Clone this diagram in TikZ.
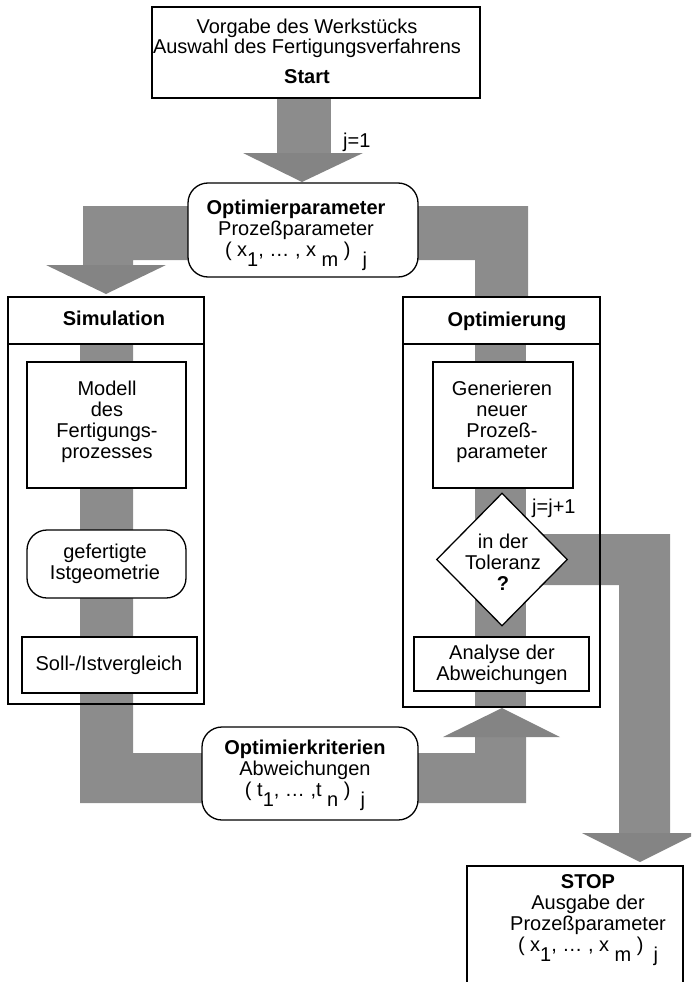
\documentclass[tikz,border=0pt]{standalone}
\usepackage{fontspec}
\setmainfont{Liberation Sans}
\usetikzlibrary{shapes.geometric}
\definecolor{bandc}{RGB}{140,140,140}
\definecolor{headc}{RGB}{132,132,132}
\newcommand{\lowr}[1]{\raisebox{-10pt}{#1}}
\begin{document}
\begin{tikzpicture}[x=1pt,y=-1pt,
  every node/.style={font=\fontsize{20}{21}\selectfont},
  box/.style={draw, line width=1.3pt, fill=white, inner sep=0pt},
  rbox/.style={box, rounded corners=20pt},
  frame/.style={draw, line width=1.3pt, inner sep=0pt},
  txt/.style={align=center, inner sep=0pt, anchor=base},
  lbl/.style={inner sep=0pt, anchor=base west}]
\useasboundingbox (0,0) rectangle (691,982);
\clip (0,0) rectangle (691,982);
% ---------- gray bands ----------
\fill[bandc] (277,98) rectangle (331,153);
\fill[headc] (243,153) -- (363,153) -- (302,182) -- cycle;
\fill[bandc] (83,206) -- (300,206) -- (300,260) -- (133,260) -- (133,265) -- (83,265) -- cycle;
\fill[headc] (46,265) -- (166,265) -- (106,294) -- cycle;
\fill[bandc] (300,206) -- (528,206) -- (528,297) -- (475,297) -- (475,260) -- (300,260) -- cycle;
\fill[bandc] (80,344) -- (133,344) -- (133,753) -- (300,753) -- (300,803) -- (80,803) -- cycle;
\fill[bandc] (475,344) rectangle (526,707);
\fill[bandc] (475,737) -- (526,737) -- (526,803) -- (300,803) -- (300,753) -- (475,753) -- cycle;
\fill[headc] (443,737) -- (560,737) -- (502,708) -- cycle;
\fill[bandc] (502,534) -- (670,534) -- (670,833) -- (619,833) -- (619,585) -- (502,585) -- cycle;
\fill[headc] (582,833) -- (698,833) -- (640,862) -- cycle;
% ---------- boxes ----------
\node[box, minimum width=328pt, minimum height=91pt] (top) at (316,52.5) {};
\node[rbox, minimum width=230pt, minimum height=94pt] (optpar) at (303,230) {};
\node[box, minimum width=196pt, minimum height=47pt] (simhead) at (106,320.5) {};
\node[frame, minimum width=196pt, minimum height=360pt] (simbody) at (106,524) {};
\node[box, minimum width=197pt, minimum height=47pt] (opthead) at (501.5,320.5) {};
\node[frame, minimum width=197pt, minimum height=363pt] (optbody) at (501.5,525.5) {};
\node[box, minimum width=159pt, minimum height=126pt] (modell) at (106.5,425) {};
\node[rbox, minimum width=159pt, minimum height=68pt] (ist) at (106.5,564) {};
\node[box, minimum width=175pt, minimum height=56pt] (soll) at (109.5,665) {};
\node[box, minimum width=140pt, minimum height=126pt] (gen) at (503,425) {};
\node[box, diamond, minimum width=131pt, minimum height=133pt] (tol) at (502,559.5) {};
\node[box, minimum width=175pt, minimum height=54pt] (ana) at (501.5,664) {};
\node[rbox, minimum width=216pt, minimum height=93pt] (optkrit) at (310,773.5) {};
\node[box, minimum width=216pt, minimum height=144pt] (stop) at (575,938) {};
% ---------- texts (anchor = baseline of last line) ----------
\node[txt] (ttop) at (307,83) {Vorgabe des Werkstücks\\Auswahl des Fertigungsverfahrens\\[8pt]\textbf{Start}};
\node[lbl] (j1) at (343,147) {j=1};
\node[txt] (toptpar) at (296,256) {\textbf{Optimierparameter}\\Prozeßparameter\\( x\lowr{1}, … , x \lowr{m} )\hspace{12pt}\lowr{j}};
\node[txt] (tsim) at (114,325) {\textbf{Simulation}};
\node[txt] (topt) at (507,326) {\textbf{Optimierung}};
\node[txt] (tmod) at (107,458) {Modell\\des\\Fertigungs-\\prozesses};
\node[txt] (tist) at (105,579) {gefertigte\\Istgeometrie};
\node[txt] (tsoll) at (109,670) {Soll-/Istvergleich};
\node[txt] (tgen) at (502,458) {Generieren\\neuer\\Prozeß-\\parameter};
\node[txt] (ttol) at (503,590) {in der\\Toleranz\\\textbf{?}};
\node[lbl] (jj) at (532,513) {j=j+1};
\node[txt] (tana) at (502,680) {Analyse der\\Abweichungen};
\node[txt] (tkrit) at (305,796) {\textbf{Optimierkriterien}\\Abweichungen\\( t\lowr{1}, … ,t \lowr{n} )\hspace{10pt}\lowr{j}};
\node[txt] (tstop) at (588,951) {\textbf{STOP}\\Ausgabe der\\Prozeßparameter\\( x\lowr{1}, … , x \lowr{m} )\hspace{10pt}\lowr{j}};
\end{tikzpicture}
\end{document}
